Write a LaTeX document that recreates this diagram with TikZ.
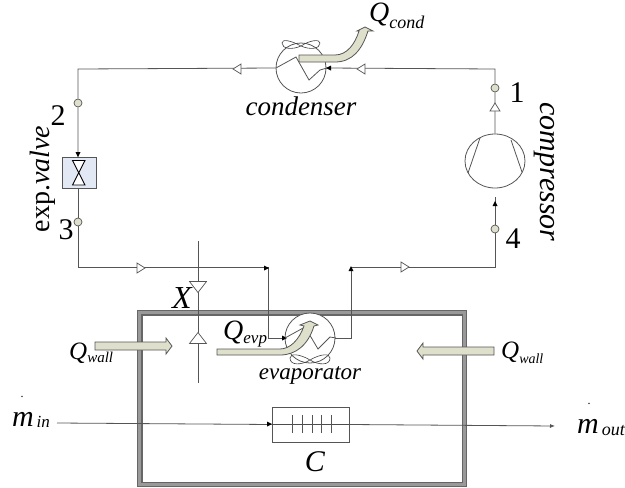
\documentclass[tikz,border=0pt]{standalone}
\usepackage{fontspec}
\setmainfont{Liberation Serif}
\usetikzlibrary{arrows.meta,calc,shapes.geometric}
\definecolor{pipe}{HTML}{555555}
\definecolor{sage}{HTML}{DFE0CC}
\definecolor{valvefill}{HTML}{E3E8F5}
\newcommand{\fs}[1]{\fontsize{#1}{#1}\selectfont}
\newcommand{\opentri}[3]{\draw[pipe,fill=white,line width=.7pt,shift={(#1,#2)},rotate=#3] (-4,-5) -- (4,0) -- (-4,5) -- cycle;}
\newcommand{\bigtri}[3]{\draw[pipe,fill=white,line width=.7pt,shift={(#1,#2)},rotate=#3] (-5.5,-8.5) -- (5.5,0) -- (-5.5,8.5) -- cycle;}
\newcommand{\tinytip}[3]{\fill[black,shift={(#1,#2)},rotate=#3] (-3,-2.5) -- (2,0) -- (-3,2.5) -- cycle;}
\tikzset{
  pipeline/.style={draw=pipe,line width=.8pt},
  unit/.style={draw=pipe,line width=.8pt,circle,fill=white,minimum size=50pt,inner sep=0pt},
  statept/.style={draw=pipe,line width=.7pt,circle,fill=sage,minimum size=8pt,inner sep=0pt},
  lab/.style={inner sep=0pt,text=black},
  block/.style={draw=pipe,line width=.8pt,fill=sage,line join=miter},
  fan/.style={draw=black!75,line width=.6pt},
}
\begin{document}
\begin{tikzpicture}[x=1pt,y=-1pt]
\useasboundingbox[fill=white] (0,0) rectangle (625,488);
% room
\coordinate (rooma) at (139.75,312.75); \coordinate (roomb) at (464.25,484.25);
\draw[draw=gray!80!black,line width=5.5pt] (rooma) rectangle (roomb);
\draw[draw=black!40,line width=3pt] (rooma) rectangle (roomb);
% corners
\coordinate (tl) at (78,69); \coordinate (tr) at (495,69);
\coordinate (bl) at (78,267); \coordinate (br) at (495,267);
\coordinate (ein) at (268,267); \coordinate (ein2) at (268,338);
\coordinate (eout) at (351,267); \coordinate (eout2) at (351,338);
\coordinate (xt) at (198,241); \coordinate (xb) at (198,383);
\coordinate (comprgap) at (495,197);
\coordinate (minstart) at (57,423); \coordinate (moutend) at (555,426);
% units
\node[unit] (cond) at (301,68) {};
\node[unit] (evap) at (310,338) {};
\node[draw=pipe,line width=.8pt,fill=white,ellipse,minimum width=60pt,minimum height=54pt,inner sep=0pt] (comp) at (495,161) {};
\node[draw=pipe,line width=1pt,fill=valvefill,minimum width=34pt,minimum height=31pt,inner sep=0pt] (valve) at (79,172.5) {};
\node[draw=pipe,line width=.8pt,fill=white,minimum width=77pt,minimum height=35pt,inner sep=0pt] (cap) at (310.5,424.5) {};
\node[statept] (p2) at (78,103) {};
\node[statept] (p3) at (78,222) {};
\node[statept] (p1) at (495,88) {};
\node[statept] (p4) at (495,229) {};
% pipes
\draw[pipeline] (cond.west) -- (tl) -- (p2) -- (valve.north -| tl);
\draw[pipeline] (valve.south -| tl) -- (p3) -- (bl) -- (ein) -- (ein2) -- (evap.west);
\draw[pipeline] (evap.east) -- (eout2) -- (eout) -- (br) -- (p4) -- (comprgap);
\draw[pipeline] (comp.north) -- (p1) -- (tr) -- (cond.east);
\draw[pipeline] (xt) -- (xb);
\draw[draw=pipe,line width=.8pt] (minstart) -- (cap.west);
\draw[draw=pipe,line width=.8pt,-{Latex[length=5pt,width=4pt]}] (cap.east) -- (moutend);
\draw[black!70,line width=.6pt] (cap.west) -- (cap.east);
\foreach \tx in {292,302,312,321,331} \draw[pipe,line width=.7pt] (\tx,415) -- (\tx,433);
% tips
\opentri{237}{69}{180}\opentri{361}{69}{180}
\opentri{141}{268}{0}\opentri{405}{267}{0}
\opentri{495}{107}{90}
\tinytip{78}{155}{-90}\tinytip{495}{203}{90}
\tinytip{328}{68}{180}\tinytip{267}{268}{0}\tinytip{285}{338}{0}\tinytip{351}{268}{90}\tinytip{270}{424}{0}
\bigtri{198}{287}{-90}\bigtri{198}{338}{90}
% valve glyph
\draw[black,line width=.9pt,fill=white] (72.5,160.5) -- (85,160.5) -- (72.5,185) -- (85,185) -- cycle;
% compressor
\draw[pipe,line width=.8pt] (480,138) -- (468,173) (511,140) -- (522,172);
% condenser
\draw[pipe,line width=.8pt] (276,68) -- (296,57) -- (309,80) -- (320,70) -- (327,68);
\draw[fan] (301,46) .. controls (290,40) and (282,39) .. (282,43) .. controls (282,49) and (292,50) .. (301,46) .. controls (310,50) and (320,49) .. (320,43) .. controls (320,39) and (310,40) .. (301,46);
% evaporator
\draw[pipe,line width=.8pt] (285,338) -- (305,327) -- (318,349) -- (330,337) -- (336,338);
\draw[fan] (310,360) .. controls (300,354) and (290,353) .. (290,358) .. controls (290,366) and (302,365) .. (310,360) .. controls (318,365) and (330,366) .. (330,358) .. controls (330,353) and (320,354) .. (310,360);
% heat arrows
\draw[block] (299,55) -- (335,55) .. controls (347,55) and (355,44) .. (359,31) -- (357,31) -- (365,27) -- (373,31) -- (368,31) .. controls (362,50) and (352,62) .. (335,62) -- (299,62) -- cycle;
\draw[block] (217,349) -- (280,349) .. controls (290,349) and (299,340) .. (304,326) -- (300,325) -- (310,321) -- (318,325) -- (314,326) .. controls (308,345) and (296,355) .. (280,355) -- (217,355) -- cycle;
\draw[block] (95,342) -- (166,342) -- (166,338) -- (172,346) -- (166,354) -- (166,350) -- (95,350) -- cycle;
\draw[block] (494,347) -- (423,347) -- (423,343) -- (417,351) -- (423,359) -- (423,355) -- (494,355) -- cycle;
% labels
\node[lab,anchor=base west] (qcond) at (369,21) {\fs{28}\itshape Q\fs{18}\raisebox{-7pt}{cond}};
\node[lab,anchor=base] (lcond) at (301,115) {\fs{27}\itshape condenser};
\node[lab,anchor=base] (levap) at (310,379) {\fs{23}\itshape evaporator};
\node[lab,anchor=base west] (qevp) at (223,339) {\fs{28}\itshape Q\fs{17}\raisebox{-4pt}{evp}};
\node[lab,anchor=base] (lx) at (182,308) {\fs{32}\itshape X};
\node[lab,anchor=base west] (qw1) at (69,359) {\fs{25}\itshape Q\fs{15}\raisebox{-3pt}{wall}};
\node[lab,anchor=base west] (qw2) at (501,358) {\fs{25}\itshape Q\fs{14}\raisebox{-5pt}{wall}};
\node[lab,anchor=base west] (lmin) at (12,426) {\fs{30}\itshape m\fs{17}\,\raisebox{-1pt}{in}};
\node[lab,anchor=base west] (lmout) at (577,433) {\fs{30}\itshape m\fs{18}\,\raisebox{-2pt}{out}};
\node[lab] (dotin) at (22,397) {\fs{12}.};
\node[lab] (dotout) at (589,404) {\fs{12}.};
\node[lab,anchor=base] (lc) at (315,471) {\fs{30}\itshape C};
\node[lab,anchor=base] (n2) at (58,125) {\fs{30}2};
\node[lab,anchor=base] (n3) at (66,239) {\fs{30}3};
\node[lab,anchor=base] (n1) at (517,102) {\fs{30}1};
\node[lab,anchor=base] (n4) at (513,248) {\fs{30}4};
\node[lab,anchor=base,rotate=90] (lvalve) at (49,179) {\fs{28}exp.\itshape valve};
\node[lab,anchor=base,rotate=-90] (lcomp) at (540,172) {\fs{30}\itshape compressor};
\end{tikzpicture}
\end{document}
